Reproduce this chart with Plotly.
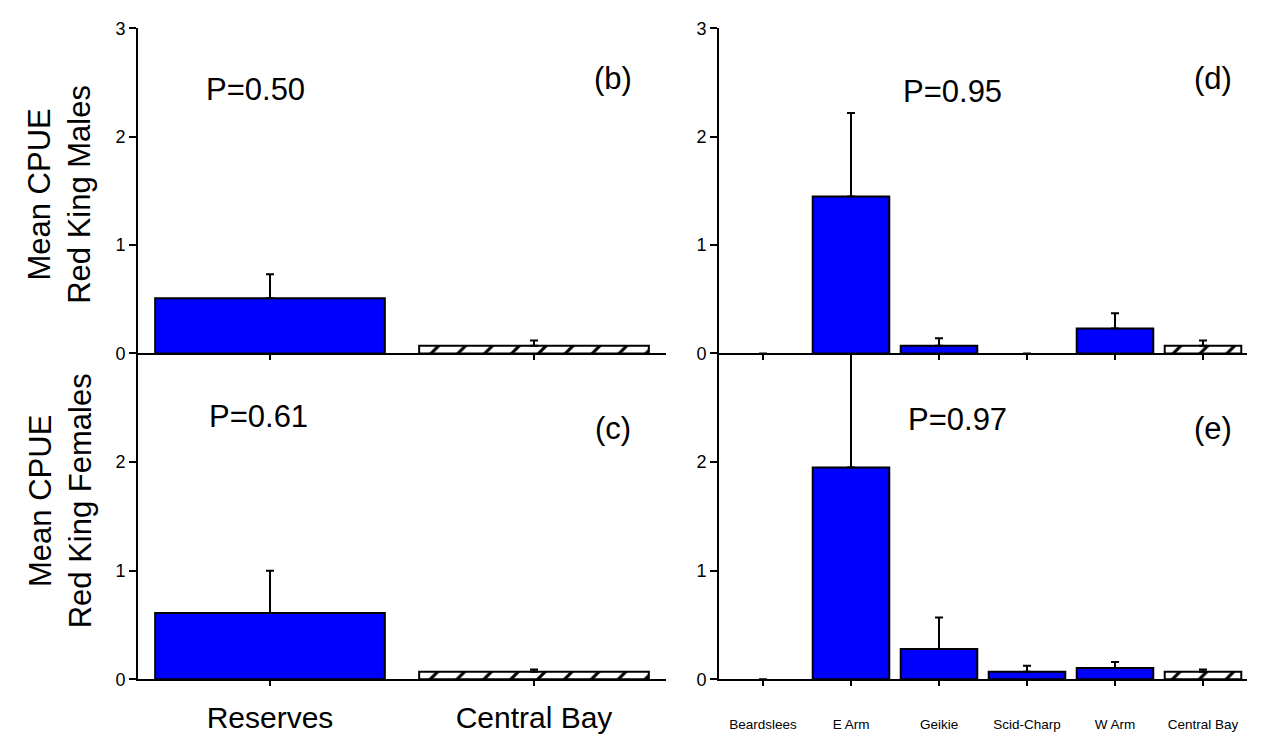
import plotly.graph_objects as go

W, H = 1262, 738

# Mean CPUE with upper limit of the error bar (mean + SE)
sites_left = ["Reserves", "Central Bay"]
males_left = [0.51, 0.07]
males_left_upper = [0.73, 0.12]
females_left = [0.61, 0.07]
females_left_upper = [1.00, 0.09]

sites_right = ["Beardslees", "E Arm", "Geikie", "Scid-Charp", "W Arm", "Central Bay"]
males_right = [0.0, 1.45, 0.07, 0.0, 0.23, 0.07]
males_right_upper = [0.0, 2.22, 0.14, 0.0, 0.37, 0.12]
females_right = [0.0, 1.95, 0.28, 0.07, 0.105, 0.07]
females_right_upper = [0.0, 3.20, 0.57, 0.125, 0.16, 0.09]

panel_tags = ["(b)", "(d)", "(c)", "(e)"]
p_values = ["P=0.50", "P=0.95", "P=0.61", "P=0.97"]

FONT = "Arial, Liberation Sans, sans-serif"
BLUE = "#0000ff"
REFERENCE_SITE = "Central Bay"


def px_x(p):
    return p / W


def px_y(p):
    return 1 - p / H


def bar_traces(cats, vals, upper, xa, ya):
    """Solid blue bars for the sites, hatched bar for the reference site."""
    out = []
    for hatched in (False, True):
        idx = [i for i, c in enumerate(cats) if (c == REFERENCE_SITE) == hatched]
        c = [cats[i] for i in idx]
        v = [vals[i] for i in idx]
        u = [upper[i] for i in idx]
        marker = dict(
            color="white" if hatched else BLUE,
            line=dict(color="black", width=[2 if val > 0 else 0 for val in v]),
        )
        if hatched:
            marker["pattern"] = dict(shape="/", fgcolor="black", bgcolor="white",
                                     size=19, solidity=0.16, fillmode="replace")
        out.append(go.Bar(
            x=c, y=v, xaxis=xa, yaxis=ya, width=0.87, marker=marker,
            error_y=dict(type="data", symmetric=False,
                         array=[a - b for a, b in zip(u, v)],
                         arrayminus=[0] * len(v),
                         color="black", thickness=2, width=4),
            showlegend=False, hoverinfo="skip",
        ))
    return out


fig = go.Figure()
fig.add_traces(bar_traces(sites_left, males_left, males_left_upper, "x", "y"))
fig.add_traces(bar_traces(sites_right, males_right, males_right_upper, "x2", "y2"))
fig.add_traces(bar_traces(sites_left, females_left, females_left_upper, "x3", "y3"))
fig.add_traces(bar_traces(sites_right, females_right, females_right_upper, "x4", "y4"))

left_dom = [px_x(138), px_x(666)]
right_dom = [px_x(719), px_x(1247)]
top_dom = [px_y(353), px_y(19)]
bot_dom = [px_y(688), px_y(353)]

xcommon = dict(type="category", showline=True, linecolor="black", linewidth=2,
               ticks="outside", ticklen=5, tickwidth=2, tickcolor="black",
               showgrid=False, zeroline=False)
ycommon = dict(range=[0, 3], showline=True, linecolor="black", linewidth=2,
               ticks="outside", ticklen=7, tickwidth=2, tickcolor="black",
               showgrid=False, zeroline=False,
               tickfont=dict(family=FONT, size=18, color="black"))

fig.update_layout(
    xaxis=dict(domain=left_dom, anchor="y", range=[-0.5, 1.5], showticklabels=False,
               categoryorder="array", categoryarray=sites_left, **xcommon),
    xaxis2=dict(domain=right_dom, anchor="y2", range=[-0.5, 5.5], showticklabels=False,
                categoryorder="array", categoryarray=sites_right, **xcommon),
    xaxis3=dict(domain=left_dom, anchor="y3", range=[-0.5, 1.5], ticklabelstandoff=6,
                categoryorder="array", categoryarray=sites_left,
                tickfont=dict(family=FONT, size=30, color="black"), **xcommon),
    xaxis4=dict(domain=right_dom, anchor="y4", range=[-0.5, 5.5], ticklabelstandoff=26,
                categoryorder="array", categoryarray=sites_right,
                tickfont=dict(family=FONT, size=13.5, color="black"), **xcommon),
    yaxis=dict(domain=top_dom, anchor="x", tickvals=[0, 1, 2, 3], **ycommon),
    yaxis2=dict(domain=top_dom, anchor="x2", tickvals=[0, 1, 2, 3], **ycommon),
    yaxis3=dict(domain=bot_dom, anchor="x3", tickvals=[0, 1, 2], **ycommon),
    yaxis4=dict(domain=bot_dom, anchor="x4", tickvals=[0, 1, 2], **ycommon),
)

ann = []
# y-axis titles
ann.append(dict(text="Mean CPUE<br>Red King Males", x=px_x(60), y=px_y(190),
                textangle=-90, font=dict(size=31)))
ann.append(dict(text="Mean CPUE<br>Red King Females", x=px_x(60), y=px_y(505),
                textangle=-90, font=dict(size=31)))
# P values and panel tags
p_pos = [(255, 82), (952, 84), (258, 418), (957, 421)]
tag_pos = [(613, 70), (1213, 70), (613, 430), (1213, 430)]
for txt, (x, y) in zip(p_values, p_pos):
    ann.append(dict(text=txt, x=px_x(x), y=px_y(y), font=dict(size=31)))
for txt, (x, y) in zip(panel_tags, tag_pos):
    ann.append(dict(text=txt, x=px_x(x), y=px_y(y), font=dict(size=31)))
for a in ann:
    a.update(xref="paper", yref="paper", showarrow=False,
             xanchor="center", yanchor="middle")
    a["font"].update(family=FONT, color="black")

fig.update_layout(
    annotations=ann,
    width=W, height=H,
    margin=dict(l=0, r=0, t=0, b=0),
    paper_bgcolor="white", plot_bgcolor="white",
    barmode="overlay",
    font=dict(family=FONT, color="black"),
)

fig.write_html("out.html")
